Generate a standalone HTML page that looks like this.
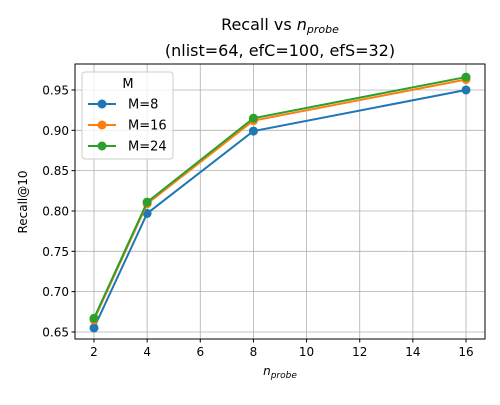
<!DOCTYPE html>
<html><head><meta charset="utf-8"><style>body{margin:0;background:#fff}svg{font-family:"DejaVu Sans","Liberation Sans",sans-serif}</style></head>
<body>
<svg id="chart" width="500" height="400" viewBox="0 0 500 400">
<text x="280" y="30" font-size="16" text-anchor="middle">Recall vs <tspan font-style="italic">n</tspan><tspan font-style="italic" font-size="11" dy="3">probe</tspan></text>
<text x="280" y="56" font-size="16" text-anchor="middle">(nlist=64, efC=100, efS=32)</text>
<g id="grid"></g><g id="ticks"></g><g id="series"></g>
<rect x="75" y="64" width="410" height="275" fill="none" stroke="#000" stroke-width="1"/>
<text x="280" y="375" font-size="12" text-anchor="middle"><tspan font-style="italic">n</tspan><tspan font-style="italic" font-size="9" dy="3">probe</tspan></text>
<text transform="translate(27,202) rotate(-90)" font-size="12" text-anchor="middle">Recall@10</text>
<g id="legend">
<rect x="82" y="72" width="91" height="87" rx="3" fill="#fff" fill-opacity="0.8" stroke="#ccc"/>
<text x="128" y="88" font-size="13" text-anchor="middle">M</text>
</g>
</svg>
<script>
const xTicks=[2,4,6,8,10,12,14,16];
const yTicks=[0.65,0.70,0.75,0.80,0.85,0.90,0.95];
const yTickLabels=["0.65","0.70","0.75","0.80","0.85","0.90","0.95"];
const nprobe=[2,4,8,16];
const seriesNames=["M=8","M=16","M=24"];
const recallM8=[0.655,0.797,0.899,0.950];
const recallM16=[0.665,0.809,0.912,0.963];
const recallM24=[0.667,0.811,0.915,0.966];
const colors=["#1f77b4","#ff7f0e","#2ca02c"];
const L=75,R=485,T=64,B=339;
const x0=1.285,x1=16.715,y0=0.6413,y1=0.9822;
const sx=v=>L+(v-x0)/(x1-x0)*(R-L);
const sy=v=>B-(v-y0)/(y1-y0)*(B-T);
const NS="http://www.w3.org/2000/svg";
function mk(t,a,p){const e=document.createElementNS(NS,t);for(const k in a)e.setAttribute(k,a[k]);p.appendChild(e);return e;}
const g=document.getElementById('grid'),tk=document.getElementById('ticks'),sg=document.getElementById('series');
xTicks.forEach(v=>{const X=sx(v);
const gl=mk('line',{x1:X,x2:X,y1:T,y2:B,stroke:'#b0b0b0','stroke-width':0.8},g);


mk('line',{x1:X,x2:X,y1:B,y2:B+3.5,stroke:'#000'},tk);
const t=mk('text',{x:X,y:B+17,'font-size':12,'text-anchor':'middle'},tk);t.textContent=v;

});
yTicks.forEach((v,i)=>{const Y=sy(v);
const gl=mk('line',{x1:L,x2:R,y1:Y,y2:Y,stroke:'#b0b0b0','stroke-width':0.8},g);


mk('line',{x1:L-3.5,x2:L,y1:Y,y2:Y,stroke:'#000'},tk);
const t=mk('text',{x:L-6,y:Y+4.5,'font-size':12,'text-anchor':'end'},tk);t.textContent=yTickLabels[i];

});
[recallM8,recallM16,recallM24].forEach((d,s)=>{
const grp=mk('g',{},sg);


mk('polyline',{points:d.map((v,i)=>sx(nprobe[i])+','+sy(v)).join(' '),fill:'none',stroke:colors[s],'stroke-width':2},grp);
d.forEach((v,i)=>{const c=mk('circle',{cx:sx(nprobe[i]),cy:sy(v),r:4.5,fill:colors[s]},grp);

});
const lg=document.getElementById('legend');const ly=104+s*21;
const e=mk('g',{},lg);


mk('line',{x1:88,x2:116,y1:ly,y2:ly,stroke:colors[s],'stroke-width':2},e);
mk('circle',{cx:102,cy:ly,r:4.5,fill:colors[s]},e);
const t=mk('text',{x:128,y:ly+4.5,'font-size':13},e);t.textContent=seriesNames[s];});
</script>
</body></html>
